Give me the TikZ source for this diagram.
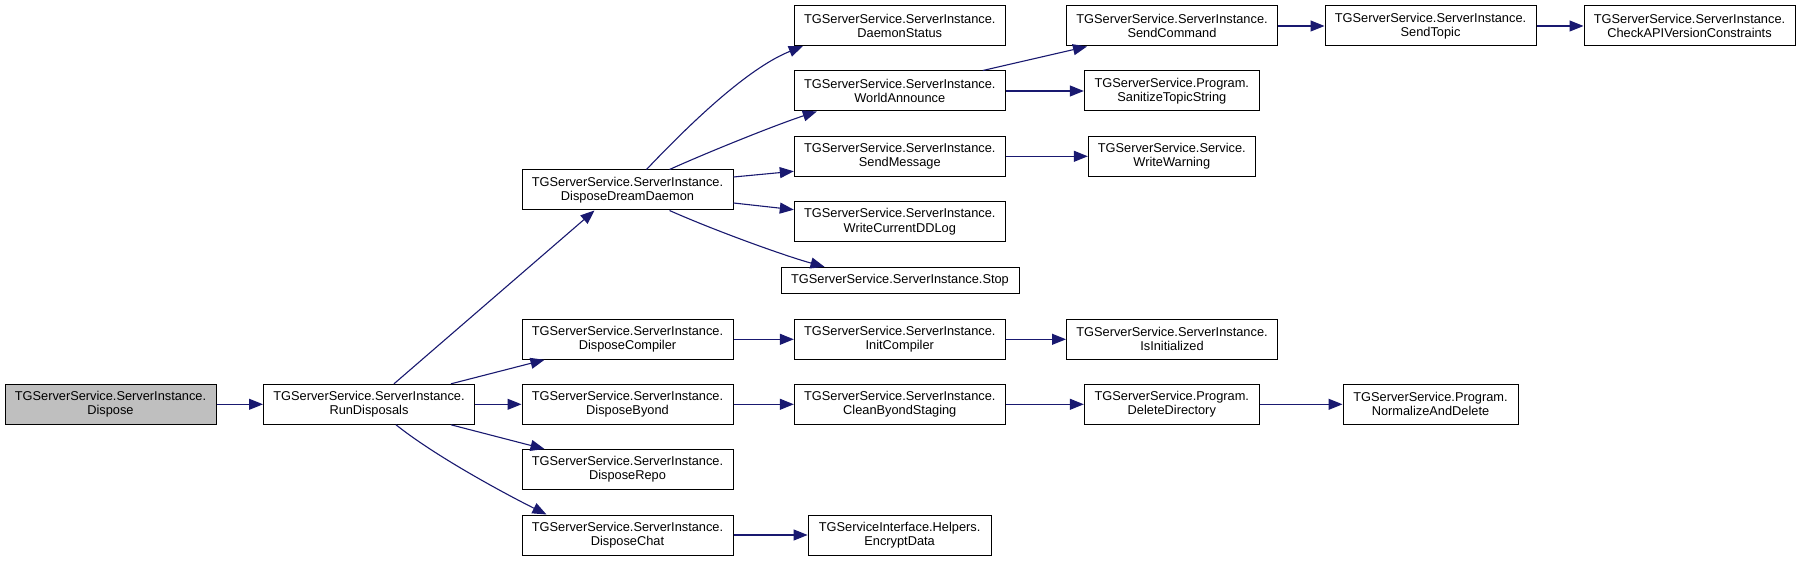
\documentclass[tikz,border=0pt]{standalone}
\usepackage{fontspec}
\setmainfont{Liberation Sans}
\usetikzlibrary{arrows.meta,calc}
\definecolor{edgec}{HTML}{191970}
\definecolor{rootfill}{HTML}{BFBFBF}
\tikzset{
  fn/.style={draw=black, line width=1pt, fill=white, minimum height=40pt,
             minimum width=211pt, inner sep=0pt, align=center,
             font=\fontsize{12.8}{14.2}\selectfont},
  call/.style={draw=edgec, line width=1.1pt, -{Triangle[length=14pt,width=11pt,fill=edgec]}}
}
\begin{document}
\begin{tikzpicture}[x=1pt,y=-1pt]
\useasboundingbox (0,0) rectangle (1800,561);
\fill[white] (0,0) rectangle (1800,561);
% column 1-2
\node[fn, fill=rootfill] (dispose) at (110.5,404.3) {TGServerService.ServerInstance.\\Dispose};
\node[fn] (run) at (369,404.3) {TGServerService.ServerInstance.\\RunDisposals};
% column 3
\node[fn] (ddd) at (627.5,190) {TGServerService.ServerInstance.\\DisposeDreamDaemon};
\node[fn] (dcomp) at (627.5,339.3) {TGServerService.ServerInstance.\\DisposeCompiler};
\node[fn] (dbyond) at (627.5,404.3) {TGServerService.ServerInstance.\\DisposeByond};
\node[fn] (drepo) at (627.5,469.5) {TGServerService.ServerInstance.\\DisposeRepo};
\node[fn] (dchat) at (627.5,535) {TGServerService.ServerInstance.\\DisposeChat};
% column 4
\node[fn] (dstatus) at (899.8,25.7) {TGServerService.ServerInstance.\\DaemonStatus};
\node[fn] (world) at (899.8,91) {TGServerService.ServerInstance.\\WorldAnnounce};
\node[fn] (sendmsg) at (899.8,156.3) {TGServerService.ServerInstance.\\SendMessage};
\node[fn] (writelog) at (899.8,221.7) {TGServerService.ServerInstance.\\WriteCurrentDDLog};
\node[fn, minimum width=238pt, minimum height=26pt] (stop) at (900,280.3) {TGServerService.ServerInstance.Stop};
\node[fn] (initc) at (899.8,339.3) {TGServerService.ServerInstance.\\InitCompiler};
\node[fn] (clean) at (899.8,404.3) {TGServerService.ServerInstance.\\CleanByondStaging};
\node[fn, minimum width=183pt] (encrypt) at (899.6,535) {TGServiceInterface.Helpers.\\EncryptData};
% column 5
\node[fn] (sendcmd) at (1172,26) {TGServerService.ServerInstance.\\SendCommand};
\node[fn, minimum width=175pt] (sanitize) at (1171.8,91) {TGServerService.Program.\\SanitizeTopicString};
\node[fn, minimum width=167pt] (warn) at (1171.8,156.3) {TGServerService.Service.\\WriteWarning};
\node[fn] (isinit) at (1172,339.3) {TGServerService.ServerInstance.\\IsInitialized};
\node[fn, minimum width=175pt] (deldir) at (1171.8,404.3) {TGServerService.Program.\\DeleteDirectory};
% column 6-7
\node[fn] (sendtopic) at (1430.5,26) {TGServerService.ServerInstance.\\SendTopic};
\node[fn, minimum width=175pt] (normdel) at (1430.5,404.3) {TGServerService.Program.\\NormalizeAndDelete};
\node[fn] (checkapi) at (1689.5,26) {TGServerService.ServerInstance.\\CheckAPIVersionConstraints};

% connectors
\draw[call] (dispose) -- (run);
\draw[call] ($(run.north west)+(131,0)$) -- ($(ddd.south west)+(73,0)$);
\draw[call] ($(run.north east)+(-24,0)$) -- ($(dcomp.south west)+(23,0)$);
\draw[call] (run) -- (dbyond);
\draw[call] ($(run.south east)+(-24,0)$) -- ($(drepo.north west)+(23,0)$);
\draw[call] ($(run.south west)+(133,0)$) .. controls +(40,32) and +(-40,-20) .. ($(dchat.north west)+(25,0)$);

\draw[call] ($(ddd.north west)+(125,0)$) .. controls +(55,-58) and +(-50,20) .. ($(dstatus.south west)+(9,0)$);
\draw[call] ($(ddd.north west)+(148,0)$) .. controls +(40,-18) and +(-40,13) .. ($(world.south west)+(23,0)$);
\draw[call] ($(ddd.east)+(0,-13)$) -- ($(sendmsg.west)+(0,15)$);
\draw[call] ($(ddd.east)+(0,13)$) -- ($(writelog.west)+(0,-12)$);
\draw[call] ($(ddd.south west)+(148,0)$) .. controls +(45,20) and +(-40,-11) .. ($(stop.north west)+(44,0)$);

\draw[call] ($(world.north west)+(189,0)$) -- ($(sendcmd.south west)+(21,0)$);
\draw[call] (world) -- (sanitize);
\draw[call] (sendmsg) -- (warn);
\draw[call] (sendcmd) -- (sendtopic);
\draw[call] (sendtopic) -- (checkapi);

\draw[call] (dcomp) -- (initc);
\draw[call] (initc) -- (isinit);
\draw[call] (dbyond) -- (clean);
\draw[call] (clean) -- (deldir);
\draw[call] (deldir) -- (normdel);
\draw[call] (dchat) -- (encrypt);
\end{tikzpicture}
\end{document}
